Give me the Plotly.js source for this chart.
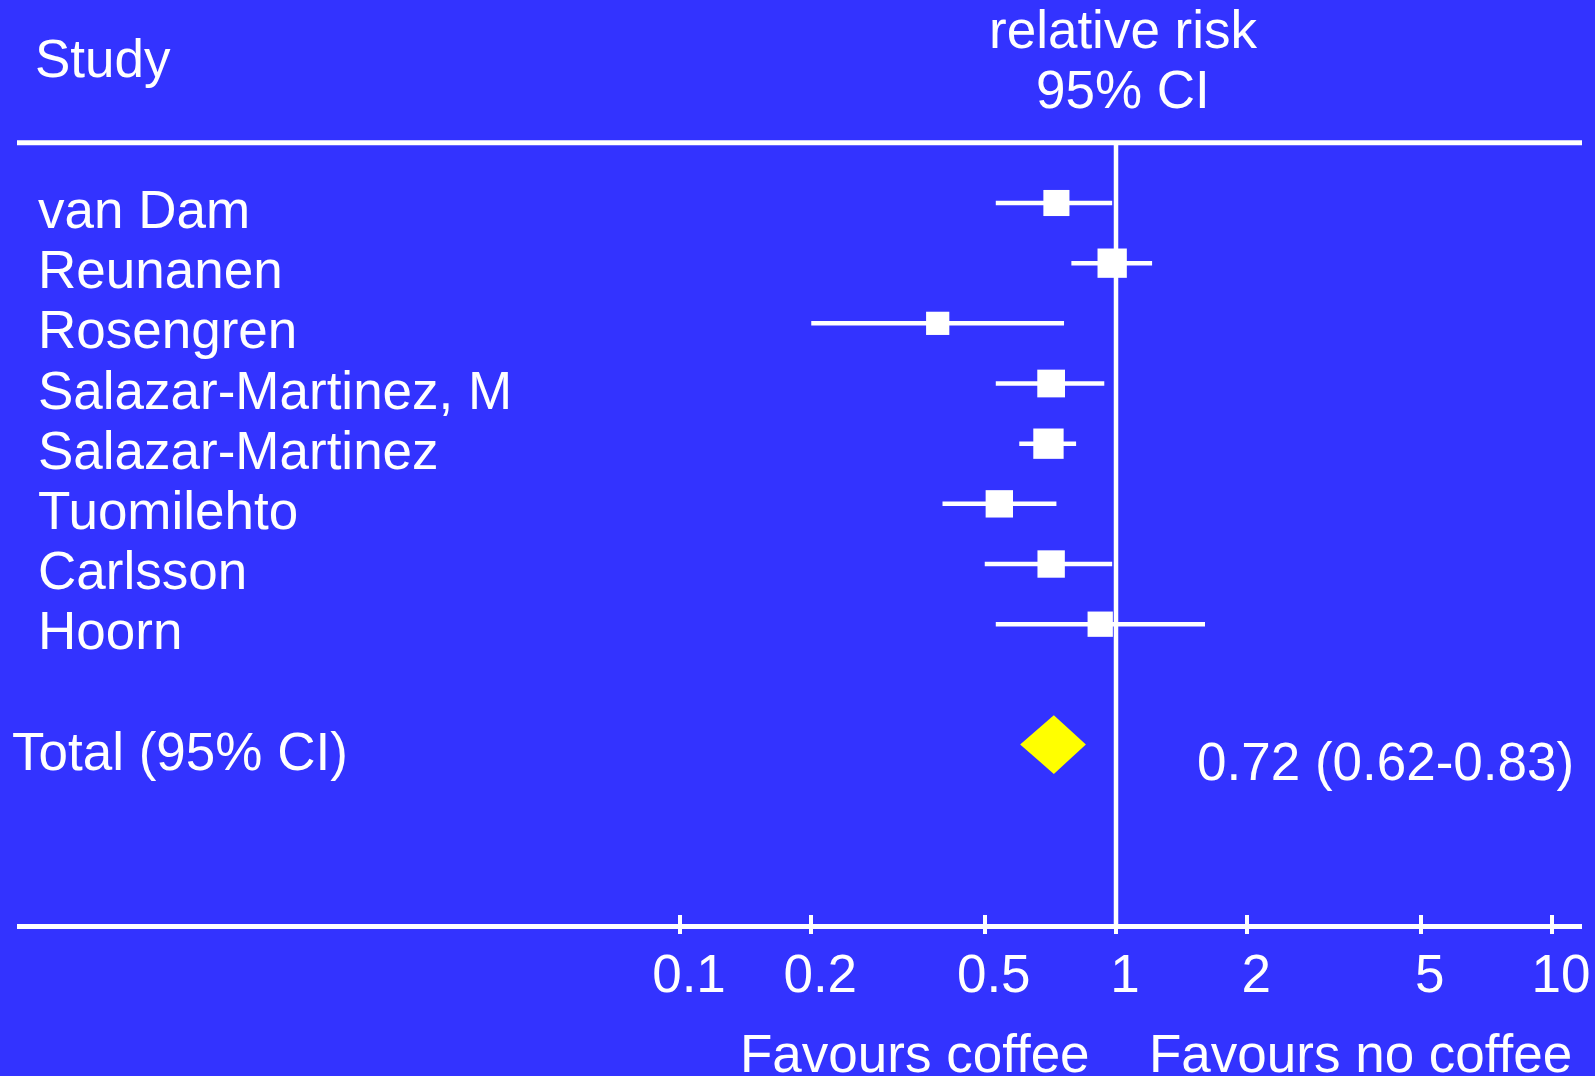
<!DOCTYPE html>
<html>
<head>
<meta charset="utf-8">
<script src="https://cdn.plot.ly/plotly-3.0.1.min.js"></script>
<style>html,body{margin:0;padding:0;background:#3333ff;}#chart{width:1595px;height:1076px;}</style>
</head>
<body>
<div id="chart"></div>
<script>
// ---- data ----
const studies = ["van Dam", "Reunanen", "Rosengren", "Salazar-Martinez, M", "Salazar-Martinez", "Tuomilehto", "Carlsson", "Hoorn"];
const relRisk = [0.73, 0.98, 0.39, 0.71, 0.70, 0.54, 0.71, 0.92];
const ciLow   = [0.53, 0.79, 0.20, 0.53, 0.60, 0.40, 0.50, 0.53];
const ciHigh  = [0.98, 1.21, 0.76, 0.94, 0.81, 0.73, 0.98, 1.60];
const weights = [6.8, 8.6, 5.4, 7.7, 9.2, 7.5, 7.5, 6.4];
const totalLabel = "Total (95% CI)";
const totalRR = 0.72;
const totalLow = 0.62;
const totalHigh = 0.83;
const tickVals = [0.1, 0.2, 0.5, 1, 2, 5, 10];
const tickText = ["0.1", "0.2", "0.5", "1", "2", "5", "10"];

// ---- layout helpers ----
const W = 1595, H = 1076;
const ML = 17, MR = 13, MT = 0, MB = 152;
const plotW = W - ML - MR, plotH = H - MT - MB;
const px2paperX = p => (p - ML) / plotW;
const px2paperY = p => 1 - (p - MT) / plotH;
const white = "#ffffff";
const bg = "#3333ff";
const fontFam = "Liberation Sans, Arial, Helvetica, sans-serif";
const FS = 53;

const rowIdx = studies.map((s, i) => i);
const totalRow = studies.length + 1;

// whiskers
const wx = [], wy = [];
rowIdx.forEach(i => { wx.push(ciLow[i], ciHigh[i], null); wy.push(i, i, null); });

const dh = 0.41; // half height of the pooled diamond, in rows
const traces = [
  { x: wx, y: wy, type: "scatter", mode: "lines", line: { color: white, width: 4.5 }, hoverinfo: "skip", showlegend: false },
  { x: relRisk, y: rowIdx, type: "scatter", mode: "markers",
    marker: { symbol: "square", color: white, opacity: 1, size: weights.map(w => 10 * Math.sqrt(w)), line: { width: 0 } },
    hoverinfo: "skip", showlegend: false },
  { x: [totalLow, totalRR, totalHigh, totalRR, totalLow, totalRR],
    y: [totalRow, totalRow - dh, totalRow, totalRow + dh, totalRow, totalRow - dh],
    type: "scatter", mode: "lines", fill: "toself", fillcolor: "#ffff00", line: { color: "#ffff00", width: 7 },
    hoverinfo: "skip", showlegend: false },
  { x: [1, 1], y: [-1, 12], xaxis: "x2", type: "scatter", mode: "lines", line: { color: white, width: 4.5 },
    hoverinfo: "skip", showlegend: false }
];

const X1 = 1116;  // pixel of relative risk = 1
const DEC = 436;  // pixels per decade
const xRange = [(ML - X1) / DEC, (W - MR - X1) / DEC];
const rowPitch = 60.17, row0 = 203;
const yBottomIdx = (H - MB - row0) / rowPitch;
const yTopIdx = (MT - row0) / rowPitch;

const annotations = [];
const ann = (text, x, y, xanchor, yref) => annotations.push({
  text, x, y, xref: "paper", yref: yref || "paper", xanchor, yanchor: "middle", showarrow: false,
  font: { family: fontFam, size: FS, color: white }
});
ann("Study", px2paperX(33), px2paperY(58), "left");
ann("relative risk", px2paperX(1123), px2paperY(30), "center");
ann("95% CI", px2paperX(1123), px2paperY(89), "center");
studies.forEach((s, i) => ann(s, px2paperX(36), i + 0.11, "left", "y"));
ann(totalLabel, px2paperX(10), totalRow + 0.11, "left", "y");
ann(totalRR.toFixed(2) + " (" + totalLow.toFixed(2) + "-" + totalHigh.toFixed(2) + ")", px2paperX(1576), totalRow + 0.29, "right", "y");
ann("Favours coffee", px2paperX(915), px2paperY(1053), "center");
ann("Favours no coffee", px2paperX(1360), px2paperY(1053), "center");

const layout = {
  width: W, height: H,
  paper_bgcolor: bg, plot_bgcolor: bg,
  margin: { l: ML, r: MR, t: MT, b: MB, pad: 0 },
  showlegend: false,
  font: { family: fontFam, size: FS, color: white },
  xaxis: {
    type: "log", range: xRange, fixedrange: true,
    tickvals: tickVals, ticktext: tickText,
    ticks: "inside", ticklen: 9, tickwidth: 4, tickcolor: white,
    ticklabelshift: 9, ticklabelstandoff: -1,
    tickfont: { family: fontFam, size: FS, color: white },
    showline: true, linecolor: white, linewidth: 5,
    showgrid: false, zeroline: false
  },
  xaxis2: {
    type: "log", range: xRange, overlaying: "x", anchor: "y", side: "bottom", fixedrange: true,
    tickvals: tickVals, ticks: "outside", ticklen: 9, tickwidth: 4, tickcolor: white,
    showticklabels: false, showline: false, showgrid: false, zeroline: false
  },
  yaxis: {
    range: [yBottomIdx, yTopIdx], fixedrange: true,
    showticklabels: false, ticks: "", showgrid: false, zeroline: false, showline: false
  },
  shapes: [
    { type: "line", xref: "paper", yref: "y", x0: 0, x1: 1, y0: -1, y1: -1, line: { color: white, width: 5 } }
  ],
  annotations
};

Plotly.newPlot("chart", traces, layout, { staticPlot: true, displayModeBar: false });
</script>
</body>
</html>
